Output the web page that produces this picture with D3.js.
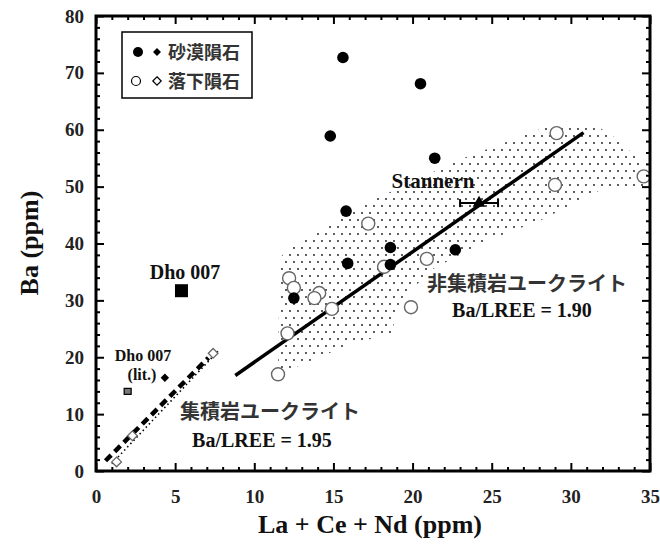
<!DOCTYPE html>
<html>
<head>
<meta charset="utf-8">
<script src="https://cdn.jsdelivr.net/npm/d3@7"></script>
<style>
    body { margin: 0; background: #fff; }
    svg text { font-family: "Liberation Serif", "DejaVu Serif", serif; font-weight: bold; }
    .jp { font-family: "Noto Sans CJK JP", sans-serif; }
</style>
</head>
<body>
<svg width="660" height="551"></svg>
<script>
// desert meteorites (filled circles)
var desertX = [15.6, 20.5, 14.8, 21.4, 15.8, 15.9, 18.6, 18.6, 22.7, 12.5];
var desertY = [72.7, 68.1, 58.9, 55.0, 45.7, 36.5, 39.3, 36.3, 38.9, 30.4];
// falls (open circles)
var fallX = [29.1, 34.6, 29.0, 17.2, 20.9, 18.2, 12.2, 12.5, 14.1, 13.8, 14.9, 19.9, 12.1, 11.5];
var fallY = [59.4, 51.8, 50.3, 43.5, 37.3, 35.9, 33.9, 32.2, 31.3, 30.4, 28.5, 28.8, 24.2, 17.0];
// cumulate eucrites (diamonds)
var desertDiaX = [4.35];
var desertDiaY = [16.4];
var fallDiaX = [1.3, 2.3, 7.4];
var fallDiaY = [1.6, 6.2, 20.7];
// Dho 007 (this work / literature), Stannern
var dhoPoint = [5.4, 31.7];
var dhoLitPoint = [2.0, 14.0];
var stannern = [24.2, 47.1, 1.2];
// trend lines
var noncumLine = [[8.8, 16.8], [30.8, 59.5]];
var cumDashLine = [[0.6, 1.8], [7.1, 19.9]];
var cumDotLine = [[1.0, 1.3], [7.75, 21.2]];
// stippled field of non-cumulate eucrites
var bandX = [11.6, 12.0, 17.6, 23.1, 28.6, 31.4, 32.9, 34.8, 35.0, 35.0, 32.0, 28.2, 24.6, 21.2, 19.3, 18.6, 16.4, 12.9, 11.85, 11.5];
var bandY = [37.2, 38.9, 47.8, 54.9, 60.7, 61.1, 58.4, 53.5, 52.7, 49.6, 49.6, 44.2, 40.4, 35.4, 30.1, 23.9, 22.7, 18.6, 17.3, 17.7];

var xTicks = [0, 5, 10, 15, 20, 25, 30, 35];
var yTicks = [0, 10, 20, 30, 40, 50, 60, 70, 80];
var legendLabels = ["砂漠隕石", "落下隕石"];

var svg = d3.select("svg");
var plotLeft = 96, plotRight = 650, plotTop = 16, plotBottom = 471;

var x = d3.scaleLinear().domain([0, 35]).range([plotLeft, plotRight]);
var y = d3.scaleLinear().domain([0, 80]).range([plotBottom, plotTop]);

var defs = svg.append("defs");
var pat = defs.append("pattern")
    .attr("id", "stipple")
    .attr("patternUnits", "userSpaceOnUse")
    .attr("width", 8).attr("height", 14);
pat.append("circle").attr("cx", 2).attr("cy", 3).attr("r", 0.9).attr("fill", "#111");
pat.append("circle").attr("cx", 6).attr("cy", 10).attr("r", 0.9).attr("fill", "#111");
defs.append("clipPath").attr("id", "plotclip")
    .append("rect").attr("x", plotLeft).attr("y", plotTop)
    .attr("width", plotRight - plotLeft).attr("height", plotBottom - plotTop);

var plot = svg.append("g").attr("clip-path", "url(#plotclip)");

var line = d3.line().x(function (d) { return x(d[0]); }).y(function (d) { return y(d[1]); });

// band
plot.append("path")
    .datum(d3.zip(bandX, bandY))
    .attr("d", line)
    .attr("fill", "url(#stipple)")
    .attr("stroke", "none");

plot.append("path").datum(noncumLine).attr("d", line)
    .attr("stroke", "#000").attr("stroke-width", 3.5).attr("fill", "none");
plot.append("path").datum(cumDotLine).attr("d", line)
    .attr("stroke", "#000").attr("stroke-width", 1.6).attr("stroke-dasharray", "1.5,3").attr("fill", "none");
plot.append("path").datum(cumDashLine).attr("d", line)
    .attr("stroke", "#000").attr("stroke-width", 4.5).attr("stroke-dasharray", "8,5").attr("fill", "none");

// open circles
plot.selectAll(".fall").data(d3.zip(fallX, fallY)).enter().append("circle")
    .attr("class", "fall")
    .attr("cx", function (d) { return x(d[0]); })
    .attr("cy", function (d) { return y(d[1]); })
    .attr("r", 6.5)
    .attr("fill", "#fff").attr("stroke", "#666").attr("stroke-width", 1.4);

// filled circles
plot.selectAll(".desert").data(d3.zip(desertX, desertY)).enter().append("circle")
    .attr("class", "desert")
    .attr("cx", function (d) { return x(d[0]); })
    .attr("cy", function (d) { return y(d[1]); })
    .attr("r", 5.8)
    .attr("fill", "#000");

var diamond = d3.symbol().type(d3.symbolDiamond2).size(60);
plot.selectAll(".fdia").data(d3.zip(fallDiaX, fallDiaY)).enter().append("path")
    .attr("class", "fdia")
    .attr("d", diamond)
    .attr("transform", function (d) { return "translate(" + x(d[0]) + "," + y(d[1]) + ")"; })
    .attr("fill", "#fff").attr("stroke", "#666").attr("stroke-width", 1.3);
plot.selectAll(".ddia").data(d3.zip(desertDiaX, desertDiaY)).enter().append("path")
    .attr("class", "ddia")
    .attr("d", d3.symbol().type(d3.symbolDiamond2).size(45))
    .attr("transform", function (d) { return "translate(" + x(d[0]) + "," + y(d[1]) + ")"; })
    .attr("fill", "#000");

// Dho 007
plot.append("rect")
    .attr("x", x(dhoPoint[0]) - 6.5).attr("y", y(dhoPoint[1]) - 6.5)
    .attr("width", 13).attr("height", 13).attr("fill", "#000");
plot.append("rect")
    .attr("x", x(dhoLitPoint[0]) - 3.5).attr("y", y(dhoLitPoint[1]) - 3)
    .attr("width", 7).attr("height", 6)
    .attr("fill", "#777").attr("stroke", "#000").attr("stroke-width", 1.2);

// Stannern with error bar
var sy = y(stannern[1]);
plot.append("line")
    .attr("x1", x(stannern[0] - stannern[2])).attr("x2", x(stannern[0] + stannern[2]))
    .attr("y1", sy).attr("y2", sy).attr("stroke", "#000").attr("stroke-width", 2);
[stannern[0] - stannern[2], stannern[0] + stannern[2]].forEach(function (v) {
    plot.append("line").attr("x1", x(v)).attr("x2", x(v))
        .attr("y1", sy - 4).attr("y2", sy + 4).attr("stroke", "#000").attr("stroke-width", 2);
});
plot.append("path")
    .attr("d", d3.symbol().type(d3.symbolTriangle).size(70))
    .attr("transform", "translate(" + x(stannern[0]) + "," + sy + ")")
    .attr("fill", "#000");

// frame and ticks (inside)
function drawAxis(axis, transform) {
    svg.append("g").attr("transform", transform).call(axis);
}
var xMinor = d3.range(0, 35.001, 1).filter(function (v) { return v % 5 !== 0; });
var yMinor = d3.range(0, 80.001, 2).filter(function (v) { return v % 10 !== 0; });

drawAxis(d3.axisBottom(x).tickValues(xTicks).tickSize(-8).tickPadding(19).tickFormat(d3.format("d")), "translate(0," + plotBottom + ")");
drawAxis(d3.axisBottom(x).tickValues(xMinor).tickSize(-4).tickFormat(""), "translate(0," + plotBottom + ")");
drawAxis(d3.axisTop(x).tickValues(xTicks).tickSize(-8).tickFormat(""), "translate(0," + plotTop + ")");
drawAxis(d3.axisTop(x).tickValues(xMinor).tickSize(-4).tickFormat(""), "translate(0," + plotTop + ")");
drawAxis(d3.axisLeft(y).tickValues(yTicks).tickSize(-8).tickPadding(12).tickFormat(d3.format("d")), "translate(" + plotLeft + ",0)");
drawAxis(d3.axisLeft(y).tickValues(yMinor).tickSize(-4).tickFormat(""), "translate(" + plotLeft + ",0)");
drawAxis(d3.axisRight(y).tickValues(yTicks).tickSize(-8).tickFormat(""), "translate(" + plotRight + ",0)");
drawAxis(d3.axisRight(y).tickValues(yMinor).tickSize(-4).tickFormat(""), "translate(" + plotRight + ",0)");

svg.selectAll(".domain").remove();
svg.selectAll(".tick line").attr("stroke", "#000").attr("stroke-width", 2);
svg.selectAll(".tick text")
    .style("font-family", "Liberation Serif, serif")
    .style("font-weight", "bold")
    .style("font-size", "19px")
    .attr("fill", "#222");

svg.append("rect")
    .attr("x", plotLeft).attr("y", plotTop)
    .attr("width", plotRight - plotLeft).attr("height", plotBottom - plotTop)
    .attr("fill", "none").attr("stroke", "#000").attr("stroke-width", 3);

// legend
var lg = svg.append("g");
lg.append("rect").attr("x", 122).attr("y", 32).attr("width", 130).attr("height", 66)
    .attr("fill", "#fff").attr("stroke", "#000").attr("stroke-width", 1.5);
lg.append("circle").attr("cx", 138).attr("cy", 52).attr("r", 5).attr("fill", "#000");
lg.append("path").attr("d", d3.symbol().type(d3.symbolDiamond2).size(40))
    .attr("transform", "translate(157,52)").attr("fill", "#000");
lg.append("circle").attr("cx", 136).attr("cy", 81).attr("r", 4.5)
    .attr("fill", "#fff").attr("stroke", "#000").attr("stroke-width", 1.2);
lg.append("path").attr("d", d3.symbol().type(d3.symbolDiamond2).size(45))
    .attr("transform", "translate(157,81)").attr("fill", "#fff").attr("stroke", "#000").attr("stroke-width", 1.2);
lg.selectAll(".lgt").data(legendLabels).enter().append("text")
    .attr("class", "jp")
    .attr("x", 168).attr("y", function (d, i) { return 59 + i * 29; })
    .style("font-size", "18px").style("font-weight", "bold")
    .attr("fill", "#333")
    .text(function (d) { return d; });

// annotations
function label(txt, px, py, size, cls) {
    return svg.append("text")
        .attr("class", cls || null)
        .attr("x", px).attr("y", py)
        .attr("text-anchor", "middle")
        .style("font-size", size + "px")
        .attr("fill", cls ? "#333" : "#111")
        .text(txt);
}
label("Stannern", 433, 188, 21);
label("非集積岩ユークライト", 527, 291, 20, "jp");
label("Ba/LREE = 1.90", 522, 317, 20);
label("集積岩ユークライト", 270, 419, 20, "jp");
label("Ba/LREE = 1.95", 262, 447, 20);
label("Dho 007", 185, 279, 20);
label("Dho 007", 143, 361, 16);
label("(lit.)", 142, 380, 16);

// axis titles
svg.append("text")
    .attr("transform", "translate(38,243) rotate(-90)")
    .attr("text-anchor", "middle")
    .style("font-size", "26px")
    .attr("fill", "#111")
    .text("Ba (ppm)");
svg.append("text")
    .attr("x", 370).attr("y", 533)
    .attr("text-anchor", "middle")
    .style("font-size", "26px")
    .attr("fill", "#111")
    .text("La + Ce + Nd (ppm)");
</script>
</body>
</html>
